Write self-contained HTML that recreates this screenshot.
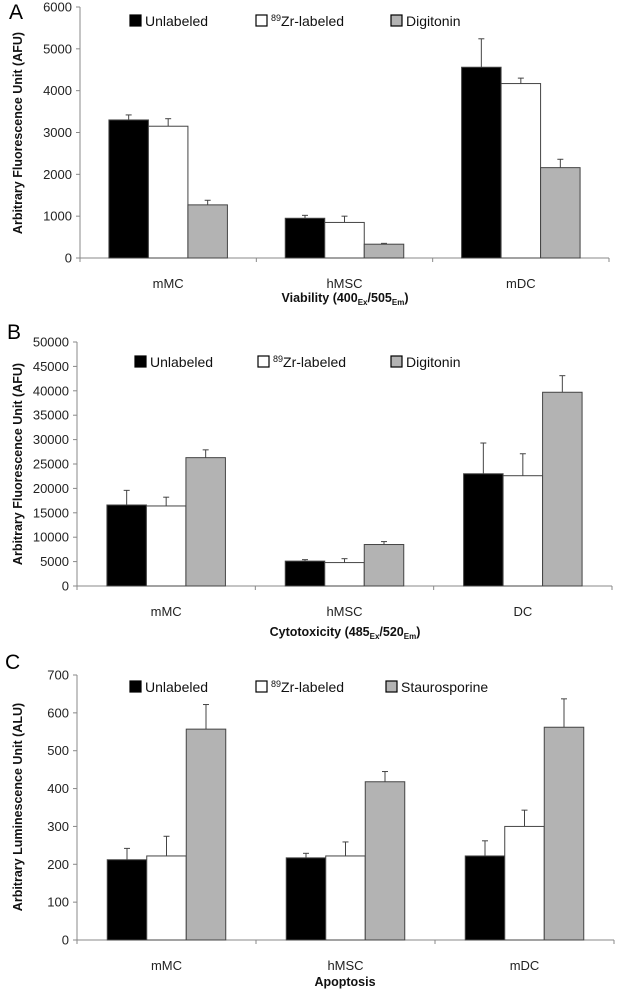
<!DOCTYPE html>
<html><head><meta charset="utf-8"><style>
html,body{margin:0;padding:0;background:#fff;}
svg{display:block;font-family:"Liberation Sans",sans-serif;}
</style></head><body>
<svg id="chart" width="617" height="992" viewBox="0 0 617 992" xmlns="http://www.w3.org/2000/svg"></svg>
<script>
const categoriesA = ["mMC","hMSC","mDC"];
const unlabeledA = [3300,950,4560];
const zrA = [3150,850,4170];
const thirdA = [1270,330,2160];
const errUnlabeledA = [120,70,680];
const errZrA = [180,150,130];
const errThirdA = [110,20,200];
const ticksA = [0,1000,2000,3000,4000,5000,6000];

const categoriesB = ["mMC","hMSC","DC"];
const unlabeledB = [16600,5100,23000];
const zrB = [16400,4800,22600];
const thirdB = [26300,8500,39700];
const errUnlabeledB = [3000,300,6300];
const errZrB = [1800,800,4500];
const errThirdB = [1600,600,3400];
const ticksB = [0,5000,10000,15000,20000,25000,30000,35000,40000,45000,50000];

const categoriesC = ["mMC","hMSC","mDC"];
const unlabeledC = [212,217,222];
const zrC = [222,222,300];
const thirdC = [557,418,562];
const errUnlabeledC = [30,12,40];
const errZrC = [52,37,43];
const errThirdC = [65,27,75];
const ticksC = [0,100,200,300,400,500,600,700];

const NS="http://www.w3.org/2000/svg";
const svg=document.getElementById('chart');
function mk(tag,attrs,parent){const e=document.createElementNS(NS,tag);for(const k in attrs)e.setAttribute(k,attrs[k]);(parent||svg).appendChild(e);return e;}

function panel(o){
  const g=mk('g',{});
  
  
  const x0=o.x0,x1=o.x1,yTop=o.yTop,yBot=o.yBot,max=o.ticks[o.ticks.length-1];
  const y=v=>yBot-(v/max)*(yBot-yTop);
  const n=o.cats.length,cw=(x1-x0)/n,bw=39.5;
  // axes
  const ya=mk('line',{x1:x0,y1:yTop,x2:x0,y2:yBot,stroke:'#888','stroke-width':1},g);
  
  
  const xa=mk('line',{x1:x0,y1:yBot,x2:x1,y2:yBot,stroke:'#888','stroke-width':1},g);
  
  
  o.ticks.forEach(t=>{
    mk('line',{x1:x0-4,y1:y(t),x2:x0,y2:y(t),stroke:'#888'},g);
    const tx=mk('text',{x:x0-8,y:y(t)+4.5,'text-anchor':'end','font-size':13,fill:'#222'},g);
    tx.textContent=t;
    
    
  });
  for(let i=0;i<=n;i++) mk('line',{x1:x0+i*cw,y1:yBot,x2:x0+i*cw,y2:yBot+4,stroke:'#888'},g);
  const series=[[o.s1,o.e1,'#000'],[o.s2,o.e2,'#fff'],[o.s3,o.e3,'#b3b3b3']];
  o.cats.forEach((c,i)=>{
    const cx=x0+cw*(i+0.5);
    series.forEach((s,j)=>{
      const bx=cx-1.5*bw+j*bw,v=s[0][i],e=s[1][i];
      const r=mk('rect',{x:bx,y:y(v),width:bw,height:yBot-y(v),fill:s[2],stroke:'#444','stroke-width':1},g);
      
      
      const mx=bx+bw/2;
      mk('line',{x1:mx,y1:y(v),x2:mx,y2:y(v+e),stroke:'#444'},g);
      mk('line',{x1:mx-3,y1:y(v+e),x2:mx+3,y2:y(v+e),stroke:'#444'},g);
    });
    const cl=mk('text',{x:cx,y:o.catY,'text-anchor':'middle','font-size':13,fill:'#222'},g);
    cl.textContent=c;
    
    
  });
  // legend
  o.legend.forEach((L,j)=>{
    const sq=mk('rect',{x:L[0],y:o.legY-11,width:11,height:11,fill:['#000','#fff','#b3b3b3'][j],stroke:'#000','stroke-width':1.2},g);
    
    
    const t=mk('text',{x:L[0]+15,y:o.legY,'font-size':14,fill:'#111'},g);
    t.innerHTML=L[1];
    
    
  });
  const lt=mk('text',{x:o.letterX,y:o.letterY,'font-size':21,fill:'#000'},g);
  lt.textContent=o.letter;
  
  
  const yt=mk('text',{x:0,y:0,'text-anchor':'middle','font-size':12.5,'font-weight':'bold',fill:'#111',transform:'translate('+o.ytX+','+o.ytY+') rotate(-90)'},g);
  yt.textContent=o.ytitle;
  
  
  const xt=mk('text',{x:345,y:o.xtY,'text-anchor':'middle','font-size':12.5,'font-weight':'bold',fill:'#111'},g);
  xt.innerHTML=o.xtitle;
  
  
}
const zr='<tspan font-size="9" dy="-5">89</tspan><tspan dy="5">Zr-labeled</tspan>';
const sub=(a,b)=>a+'<tspan font-size="8" dy="3">'+b+'</tspan><tspan dy="-3">';
panel({letter:'A',letterX:9,letterY:19,x0:80,x1:609,yTop:7,yBot:258,ticks:ticksA,cats:categoriesA,
  s1:unlabeledA,s2:zrA,s3:thirdA,e1:errUnlabeledA,e2:errZrA,e3:errThirdA,catY:288,legY:26,
  legend:[[130,'Unlabeled'],[256,zr],[391,'Digitonin']],ytX:22,ytY:133,ytitle:'Arbitrary Fluorescence Unit (AFU)',
  xtY:302,xtitle:'Viability (400'+sub('','Ex')+'/505</tspan><tspan font-size="8" dy="3">Em</tspan><tspan dy="-3">)</tspan>'});
panel({letter:'B',letterX:7,letterY:339,x0:77,x1:612,yTop:342,yBot:586,ticks:ticksB,cats:categoriesB,
  s1:unlabeledB,s2:zrB,s3:thirdB,e1:errUnlabeledB,e2:errZrB,e3:errThirdB,catY:616,legY:367,
  legend:[[135,'Unlabeled'],[258,zr],[391,'Digitonin']],ytX:22,ytY:464,ytitle:'Arbitrary Fluorescence Unit (AFU)',
  xtY:636,xtitle:'Cytotoxicity (485'+sub('','Ex')+'/520</tspan><tspan font-size="8" dy="3">Em</tspan><tspan dy="-3">)</tspan>'});
panel({letter:'C',letterX:5,letterY:669,x0:77,x1:614,yTop:675,yBot:940,ticks:ticksC,cats:categoriesC,
  s1:unlabeledC,s2:zrC,s3:thirdC,e1:errUnlabeledC,e2:errZrC,e3:errThirdC,catY:970,legY:692,
  legend:[[130,'Unlabeled'],[256,zr],[386,'Staurosporine']],ytX:22,ytY:807,ytitle:'Arbitrary Luminescence Unit (ALU)',
  xtY:986,xtitle:'Apoptosis'});
</script>
</body></html>
